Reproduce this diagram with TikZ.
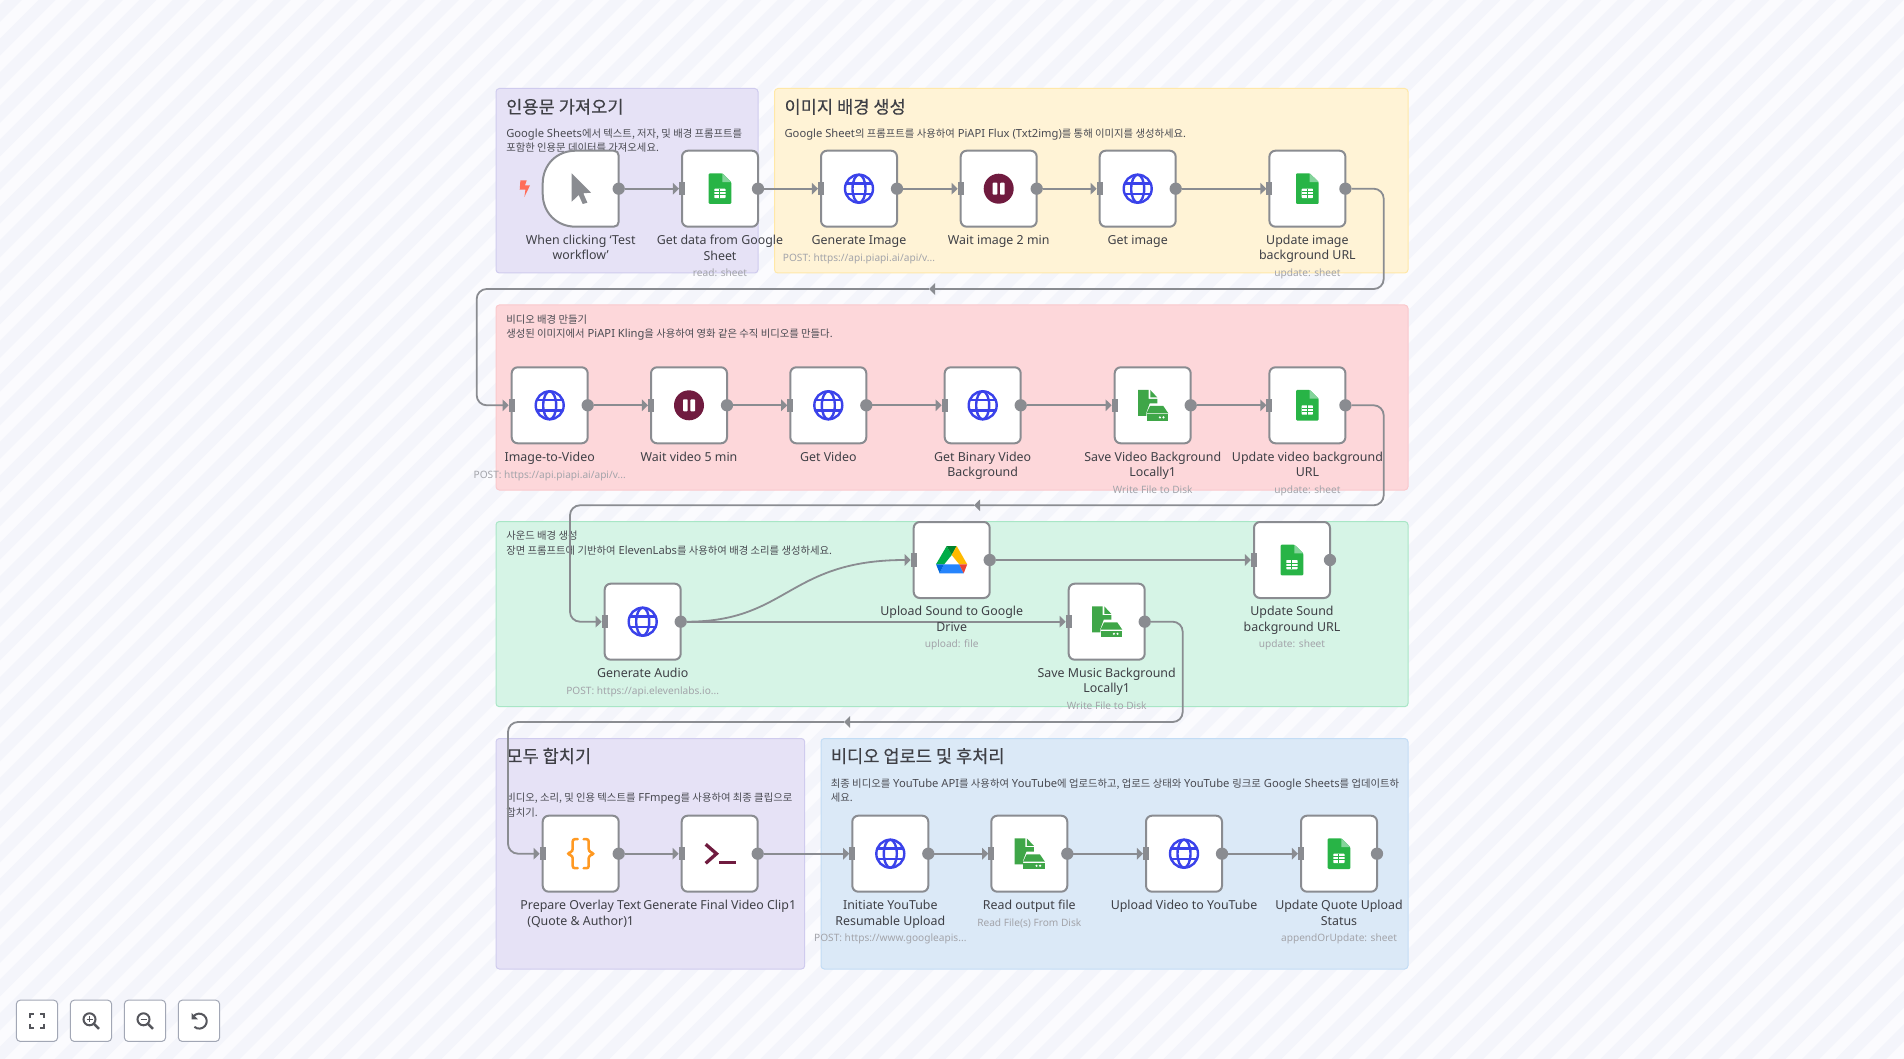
\documentclass[tikz,border=0pt]{standalone}
\usepackage{fontspec}
\setmainfont{Noto Sans}
\newfontfamily\krd[Scale=0.924]{Noto Sans CJK KR}
\newfontfamily\krt[FakeBold=0.25]{Noto Sans CJK KR}
\newcommand{\K}[1]{{\krd #1}}
\newcommand{\lstrut}{\rule[-2.9pt]{0pt}{9.5pt}}
\newcommand{\sstrut}{\rule[-2.2pt]{0pt}{8pt}}
\usetikzlibrary{arrows.meta,calc}
\pgfdeclarelayer{groups}\pgfdeclarelayer{edges}
\pgfsetlayers{groups,edges,main}
\definecolor{bgl}{HTML}{FBFBFE}\definecolor{bgd}{HTML}{F4F5FB}
\definecolor{line}{HTML}{8A8C91}
\definecolor{labc}{HTML}{3F4046}\definecolor{descc}{HTML}{4A4B52}\definecolor{subc}{HTML}{A3A4AA}
\definecolor{gblue}{HTML}{3A42EA}\definecolor{gsheet}{HTML}{28B446}\definecolor{gfold}{HTML}{84D49B}
\definecolor{pausec}{HTML}{701B3F}\definecolor{filec}{HTML}{3FA648}\definecolor{bracec}{HTML}{FF9922}
\definecolor{boltc}{HTML}{FF6D5A}\definecolor{uic}{HTML}{55565C}\definecolor{uib}{HTML}{A2A7B5}
\definecolor{dga}{HTML}{00AC47}\definecolor{dgb}{HTML}{00832D}\definecolor{dy}{HTML}{FFBA00}
\definecolor{dbl}{HTML}{2684FC}\definecolor{dbd}{HTML}{0066DA}\definecolor{dr}{HTML}{EA4335}
\definecolor{gpf}{HTML}{E6E2F6}\definecolor{gpd}{HTML}{CFCBEE}
\definecolor{gyf}{HTML}{FFF3D6}\definecolor{gyd}{HTML}{FFE8A8}
\definecolor{grf}{HTML}{FDD7DA}\definecolor{grd}{HTML}{FAC8CC}
\definecolor{ggf}{HTML}{D6F4E6}\definecolor{ggd}{HTML}{A8E6C6}
\definecolor{gbf}{HTML}{DBE9F7}\definecolor{gbd}{HTML}{C2DCF5}
\tikzset{
 x=0.75pt,y=-0.75pt,
 wfbox/.style={draw=line,fill=white,line width=1.5pt,rounded corners=4.5pt,minimum size=57pt,inner sep=0pt,outer sep=0pt},
 trigbox/.style={minimum size=57pt,inner sep=0pt,outer sep=0pt},
 trigshape/.style={draw=line,fill=white,line width=1.5pt},
 outdot/.style={circle,fill=line,minimum size=9.2pt,inner sep=0pt,outer sep=0pt},
 inport/.style={rectangle,fill=line,minimum width=4.5pt,minimum height=9.8pt,inner sep=0pt,outer sep=0pt},
 edge/.style={draw=line,line width=1.35pt},
 arrowed/.style={-{Triangle[length=4.6pt,width=8.6pt]}},
 route/.style={rounded corners=7.5pt},
 lab/.style={text=labc,font=\fontsize{9.3pt}{11.5pt}\selectfont,align=center,inner sep=0pt,execute at begin node=\lstrut,execute at end node=\lstrut},
 sublab/.style={text=subc,font=\fontsize{7.6pt}{10pt}\selectfont,inner sep=0pt,execute at begin node=\sstrut},
 grp/.style={line width=0.75pt,rounded corners=2.5pt},
 gtitle/.style={text=labc,anchor=west,inner sep=0pt,text height=12pt,text depth=2pt,font=\fontsize{13.2pt}{15pt}\selectfont\krt},
 gdesc/.style={text=descc,anchor=west,inner sep=0pt,text height=7.5pt,text depth=1.5pt,font=\fontsize{8.4pt}{10pt}\selectfont},
 uibtn/.style={draw=uib,fill=white,line width=0.75pt,rounded corners=3pt,minimum size=31pt,inner sep=0pt,outer sep=0pt},
 uiline/.style={draw=uic,line width=1.5pt},
 icong/.style={draw=gblue,line width=1.8pt},
}
\newcommand{\icoglobe}{%
 \draw[icong] (0,0) circle[radius=14];
 \draw[icong] (0,0) ellipse[x radius=6.5,y radius=14];
 \draw[icong] (-12.8,-5.3) -- (12.8,-5.3);
 \draw[icong] (-12.8,5.3) -- (12.8,5.3);}
\newcommand{\icosheet}{%
 \fill[gsheet,rounded corners=0.8pt] (-11.3,-15.4) -- (2.3,-15.4) -- (11.3,-6.6) -- (11.3,15.3) -- (-11.3,15.3) -- cycle;
 \fill[gfold] (2.3,-15.4) -- (11.3,-6.6) -- (2.3,-6.6) -- cycle;
 \fill[white,rounded corners=0.5pt] (-5.7,0) rectangle (5.5,9.4);
 \draw[gsheet,line width=0.7pt] (-5.7,3.1) -- (5.5,3.1) (-5.7,6.2) -- (5.5,6.2) (-0.1,0) -- (-0.1,9.4);}
\newcommand{\icopause}{%
 \fill[pausec] (0,0) circle[radius=15];
 \fill[white,rounded corners=0.6pt] (-6,-6) rectangle (-1.4,6);
 \fill[white,rounded corners=0.6pt] (1.4,-6) rectangle (6,6);}
\newcommand{\icofile}{%
 \fill[filec] (-14.7,-15.3) -- (-4,-15.3) -- (-4,-6.5) -- (4.6,-6.5) -- (4.6,-2) -- (-3,-2) -- (-6.3,7) -- (-6.3,10.7) -- (-14.7,10.7) -- cycle;
 \fill[filec] (-2.4,-15.3) -- (4.6,-7.8) -- (-2.4,-7.8) -- cycle;
 \fill[filec] (-2.7,0.7) -- (10.6,0.7) -- (15.6,8) -- (-6.2,8) -- cycle;
 \fill[filec] (-6.2,8.9) rectangle (15.6,15.4);
 \fill[white] (7.2,12.1) circle[radius=1.2] (10.8,12.1) circle[radius=1.2];}
\newcommand{\icodrive}{%
 \fill[dga] (-5,-14) -- (0,-5) -- (-7.5,4.3) -- (-15.7,4.3) -- cycle;
 \fill[dgb] (-5,-14) -- (5,-14) -- (0,-5) -- cycle;
 \fill[dy] (5,-14) -- (15.5,4.3) -- (7.5,4.3) -- (0,-5) -- cycle;
 \fill[dbl] (-7.5,4.3) -- (7.5,4.3) -- (12,13.3) -- (-12,13.3) -- cycle;
 \fill[dbd] (-15.7,4.3) -- (-7.5,4.3) -- (-12,13.3) -- cycle;
 \fill[dr] (15.5,4.3) -- (7.5,4.3) -- (12,13.3) -- cycle;}
\newcommand{\icobrace}{%
 \draw[bracec,line width=1.9pt,rounded corners=1.6pt,line cap=round] (-3,-14.5) -- (-8,-14.5) -- (-8,-2.5) -- (-13.5,0) -- (-8,2.5) -- (-8,14.5) -- (-3,14.5);
 \draw[bracec,line width=1.9pt,rounded corners=1.6pt,line cap=round] (3,-14.5) -- (8,-14.5) -- (8,-2.5) -- (13.5,0) -- (8,2.5) -- (8,14.5) -- (3,14.5);}
\newcommand{\icoterm}{%
 \draw[pausec,line width=2.5pt] (-14,-9.4) -- (-3.2,0) -- (-14,9.6);
 \draw[pausec,line width=2.5pt] (-0.7,9) -- (16,9);}
\newcommand{\icocursor}{%
 \fill[line] (-9,-15.4) -- (-9,13) -- (-2,6.3) -- (2,15.3) -- (6.7,14) -- (2.6,4.6) -- (10.3,4) -- cycle;}
\newcommand{\wfbody}[7]{%
 \begin{scope}[shift={(#1.center)}]#4\end{scope}
 \node[lab] (#1-l) at (#2,{#3+53.2+7.65*(#6-1)}) {#5};
 \if\relax\detokenize{#7}\relax\else
  \node[sublab] (#1-s) at (#2,{#3+70.4+15*(#6-1)}) {#7};
 \fi}
\newcommand{\wfnode}[7]{%
 \node[wfbox] (#1) at (#2,#3) {};
 \node[inport] (#1-i) at (#1.west) {};
 \node[outdot] (#1-o) at (#1.east) {};
 \wfbody{#1}{#2}{#3}{#4}{#5}{#6}{#7}}
\begin{document}
\begin{tikzpicture}
\useasboundingbox (0,0) rectangle (1904,1059);
\begin{pgfonlayer}{groups}
\fill[bgl] (0,0) rectangle (1904,1059);
\begin{scope}
\clip (0,0) rectangle (1904,1059);
\foreach \k in {0,...,90}
  \fill[bgd] ({\k*33.6+5},0) -- ++(17,0) -- ++(-1059,1059) -- ++(-17,0) -- cycle;
\end{scope}
\draw[grp,draw=gpd,fill=gpf] (496,88.5) rectangle (758,273);
\draw[grp,draw=gyd,fill=gyf] (774.5,88.5) rectangle (1408,273);
\draw[grp,draw=grd,fill=grf] (496,305) rectangle (1408,490);
\draw[grp,draw=ggd,fill=ggf] (496,521.5) rectangle (1408,706.7);
\draw[grp,draw=gpd,fill=gpf] (496,738.5) rectangle (804.7,969);
\draw[grp,draw=gbd,fill=gbf] (821,738.5) rectangle (1408,969);
\node[gtitle] (t1) at (506,106.7) {인용문 가져오기};
\node[gdesc] (d1a) at (506,133.3) {Google Sheets\K{에서 텍스트, 저자, 및 배경 프롬프트를}};
\node[gdesc] (d1b) at (506,147.6) {\K{포함한 인용문 데이터를 가져오세요.}};
\node[gtitle] (t2) at (784.3,106.7) {이미지 배경 생성};
\node[gdesc] (d2a) at (784.3,133.3) {Google Sheet\K{의 프롬프트를 사용하여} PiAPI Flux (Txt2img)\K{를 통해 이미지를 생성하세요.}};
\node[gdesc] (d3a) at (506,319.3) {\K{비디오 배경 만들기}};
\node[gdesc] (d3b) at (506,333.3) {\K{생성된 이미지에서} PiAPI Kling\K{을 사용하여 영화 같은 수직 비디오를 만들다.}};
\node[gdesc] (d4a) at (506,535) {\K{사운드 배경 생성}};
\node[gdesc] (d4b) at (506,550) {\K{장면 프롬프트에 기반하여} ElevenLabs\K{를 사용하여 배경 소리를 생성하세요.}};
\node[gtitle] (t5) at (506,756) {모두 합치기};
\node[gdesc] (d5a) at (506,797.3) {\K{비디오, 소리, 및 인용 텍스트를} FFmpeg\K{를 사용하여 최종 클립으로}};
\node[gdesc] (d5b) at (506,812) {\K{합치기.}};
\node[gtitle] (t6) at (830.6,756) {비디오 업로드 및 후처리};
\node[gdesc] (d6a) at (830.6,783.3) {\K{최종 비디오를} YouTube API\K{를 사용하여} YouTube\K{에 업로드하고, 업로드 상태와} YouTube \K{링크로} Google Sheets\K{를 업데이트하}};
\node[gdesc] (d6b) at (830.6,797.7) {\K{세요.}};
\end{pgfonlayer}

% trigger
\node[trigbox] (a1) at (580.7,188.7) {};
\begin{scope}[shift={(a1.center)}]
\draw[trigshape] (-5,-38) -- (33,-38) .. controls (36,-38) and (38,-36) .. (38,-33) -- (38,33) .. controls (38,36) and (36,38) .. (33,38) -- (-5,38) .. controls (-24,38) and (-38,24) .. (-38,5) -- (-38,-5) .. controls (-38,-24) and (-24,-38) .. (-5,-38) -- cycle;
\end{scope}
\node[outdot] (a1-o) at (a1.east) {};
\wfbody{a1}{580.7}{188.7}{\icocursor}{When clicking ‘Test\\workflow’}{2}{}
\fill[boltc] (524.7,188.7) ++(-4.3,-8.3) -- ++(6.3,0) -- ++(-1.7,5) -- ++(5,0) -- ++(-5.6,11.6) -- ++(1,-7.3) -- ++(-5.7,0) -- cycle;

\wfnode{a2}{720}{188.7}{\icosheet}{Get data from Google\\Sheet}{2}{read: sheet}
\wfnode{a3}{859}{188.7}{\icoglobe}{Generate Image}{1}{POST: https://api.piapi.ai/api/v...}
\wfnode{a4}{998.7}{188.7}{\icopause}{Wait image 2 min}{1}{}
\wfnode{a5}{1137.7}{188.7}{\icoglobe}{Get image}{1}{}
\wfnode{a6}{1307.4}{188.7}{\icosheet}{Update image\\background URL}{2}{update: sheet}

\wfnode{b1}{549.7}{405.3}{\icoglobe}{Image-to-Video}{1}{POST: https://api.piapi.ai/api/v...}
\wfnode{b2}{689}{405.3}{\icopause}{Wait video 5 min}{1}{}
\wfnode{b3}{828.3}{405.3}{\icoglobe}{Get Video}{1}{}
\wfnode{b4}{982.7}{405.3}{\icoglobe}{Get Binary Video\\Background}{2}{}
\wfnode{b5}{1152.7}{405.3}{\icofile}{Save Video Background\\Locally1}{2}{Write File to Disk}
\wfnode{b6}{1307.4}{405.3}{\icosheet}{Update video background\\URL}{2}{update: sheet}

\wfnode{c1}{642.7}{621.7}{\icoglobe}{Generate Audio}{1}{POST: https://api.elevenlabs.io...}
\wfnode{c2}{951.7}{560}{\icodrive}{Upload Sound to Google\\Drive}{2}{upload: file}
\wfnode{c3}{1106.7}{621.7}{\icofile}{Save Music Background\\Locally1}{2}{Write File to Disk}
\wfnode{c4}{1292}{560}{\icosheet}{Update Sound\\background URL}{2}{update: sheet}

\wfnode{e1}{580.7}{853.7}{\icobrace}{Prepare Overlay Text\\(Quote \& Author)1}{2}{}
\wfnode{e2}{719.7}{853.7}{\icoterm}{Generate Final Video Clip1}{1}{}
\wfnode{e3}{890.3}{853.7}{\icoglobe}{Initiate YouTube\\Resumable Upload}{2}{POST: https://www.googleapis...}
\wfnode{e4}{1029.3}{853.7}{\icofile}{Read output file}{1}{Read File(s) From Disk}
\wfnode{e5}{1184}{853.7}{\icoglobe}{Upload Video to YouTube}{1}{}
\wfnode{e6}{1339}{853.7}{\icosheet}{Update Quote Upload\\Status}{2}{appendOrUpdate: sheet}

% route way-points
\coordinate (r1a) at (1383.7,188.7);\coordinate (r1b) at (1383.7,289);\coordinate (r1m) at (929,289);
\coordinate (r1c) at (476.7,289);\coordinate (r1d) at (476.7,405.3);
\coordinate (r2a) at (1383.7,405.3);\coordinate (r2b) at (1383.7,505.3);\coordinate (r2m) at (974,505.3);
\coordinate (r2c) at (570,505.3);\coordinate (r2d) at (570,621.7);
\coordinate (r3a) at (1182.7,621.7);\coordinate (r3b) at (1182.7,722);\coordinate (r3m) at (844,722);
\coordinate (r3c) at (508,722);\coordinate (r3d) at (508,853.7);

\begin{pgfonlayer}{edges}
\foreach \s/\t in {a1/a2,a2/a3,a3/a4,a4/a5,a5/a6,b1/b2,b2/b3,b3/b4,b4/b5,b5/b6,c1/c3,c2/c4,e1/e2,e2/e3,e3/e4,e4/e5,e5/e6}
  \draw[edge,arrowed] (\s-o) -- (\t-i);
\draw[edge,arrowed] (c1-o) .. controls (788,621.7) and (788,560) .. (c2-i);
\draw[edge,arrowed,route] (a6-o) -- (r1a) -- (r1b) -- (r1m);
\draw[edge,arrowed,route] (r1m) -- (r1c) -- (r1d) -- (b1-i);
\draw[edge,arrowed,route] (b6-o) -- (r2a) -- (r2b) -- (r2m);
\draw[edge,arrowed,route] (r2m) -- (r2c) -- (r2d) -- (c1-i);
\draw[edge,arrowed,route] (c3-o) -- (r3a) -- (r3b) -- (r3m);
\draw[edge,arrowed,route] (r3m) -- (r3c) -- (r3d) -- (e1-i);
\end{pgfonlayer}

% zoom controls
\node[uibtn] (u1) at (37,1020.8) {};
\node[uibtn] (u2) at (91,1020.8) {};
\node[uibtn] (u3) at (145,1020.8) {};
\node[uibtn] (u4) at (199,1020.8) {};
\begin{scope}[shift={(u1.center)}]
 \draw[uiline] (-7,-3) -- (-7,-7) -- (-3,-7) (3,-7) -- (7,-7) -- (7,-3) (7,3) -- (7,7) -- (3,7) (-3,7) -- (-7,7) -- (-7,3);
\end{scope}
\begin{scope}[shift={(u2.center)}]
 \draw[uiline] (-1.5,-1.5) circle[radius=6];
 \draw[uiline,line width=1.8pt] (3,3) -- (8,8);
 \draw[uiline,line width=1.1pt] (-4.5,-1.5) -- (1.5,-1.5) (-1.5,-4.5) -- (-1.5,1.5);
\end{scope}
\begin{scope}[shift={(u3.center)}]
 \draw[uiline] (-1.5,-1.5) circle[radius=6];
 \draw[uiline,line width=1.8pt] (3,3) -- (8,8);
 \draw[uiline,line width=1.1pt] (-4.5,-1.5) -- (1.5,-1.5);
\end{scope}
\begin{scope}[shift={(u4.center)}]
 \draw[uiline] (-5.5,-4.5) arc[start angle=-140,end angle=130,radius=7.5];
 \fill[uic] (-7.5,-8) -- (-7.5,-1.5) -- (-1,-1.5) -- cycle;
\end{scope}
\end{tikzpicture}
\end{document}
